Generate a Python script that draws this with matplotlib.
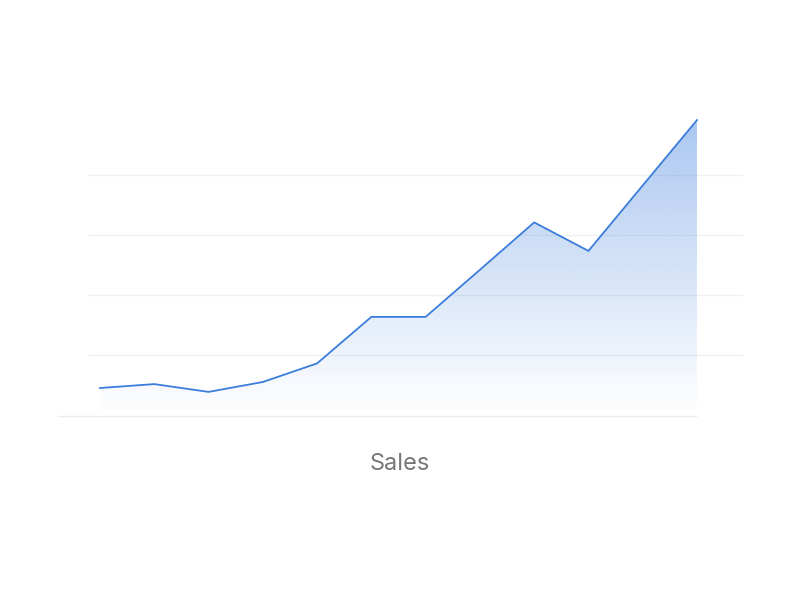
import numpy as np
import matplotlib.pyplot as plt
from matplotlib.colors import to_rgb

months = np.arange(12)
sales = [9.0, 10.3, 7.7, 11.0, 17.2, 32.7, 32.7, 48.4, 64.2, 54.7, 76.5, 98.3]
grid_vals = [20, 40, 60, 80]

line_color = "#3b7ddd"

fig = plt.figure(figsize=(8, 6.01), dpi=100)
ax = fig.add_axes([57 / 800, (601 - 430) / 601, 686 / 800, 330 / 601])
step = 54.27
ax.set_xlim((57 - 100) / step, (743 - 100) / step)
ax.set_ylim(-5, 105)
ax.axis("off")

# grid lines
for g in grid_vals:
    ax.hlines(g, (88 - 100) / step, (743 - 100) / step, color="#f0f0f0", lw=1, zorder=0)
ax.hlines(-0.3, (57 - 100) / step, months[-1], color="#eeeeee", lw=1, zorder=0)

# gradient area
poly = ax.fill_between(months, sales, 0, color="none", lw=0)
rgb = to_rgb(line_color)
n = 256
grad = np.zeros((n, 1, 4))
grad[:, 0, :3] = rgb
grad[:, 0, 3] = np.linspace(0.43, 0.0, n)
top = max(sales)
im = ax.imshow(grad, aspect="auto", extent=[months[0], months[-1], 0, top],
               origin="upper", zorder=1)
path = poly.get_paths()[0]
im.set_clip_path(path, transform=ax.transData)

ax.plot(months, sales, color=line_color, lw=1.3, zorder=2)

fig.text(400 / 800, 1 - 464 / 601, "Sales", ha="center", va="center",
         fontsize=17, color="#777777", family="Inter")

fig.savefig("out.png", dpi=100)
